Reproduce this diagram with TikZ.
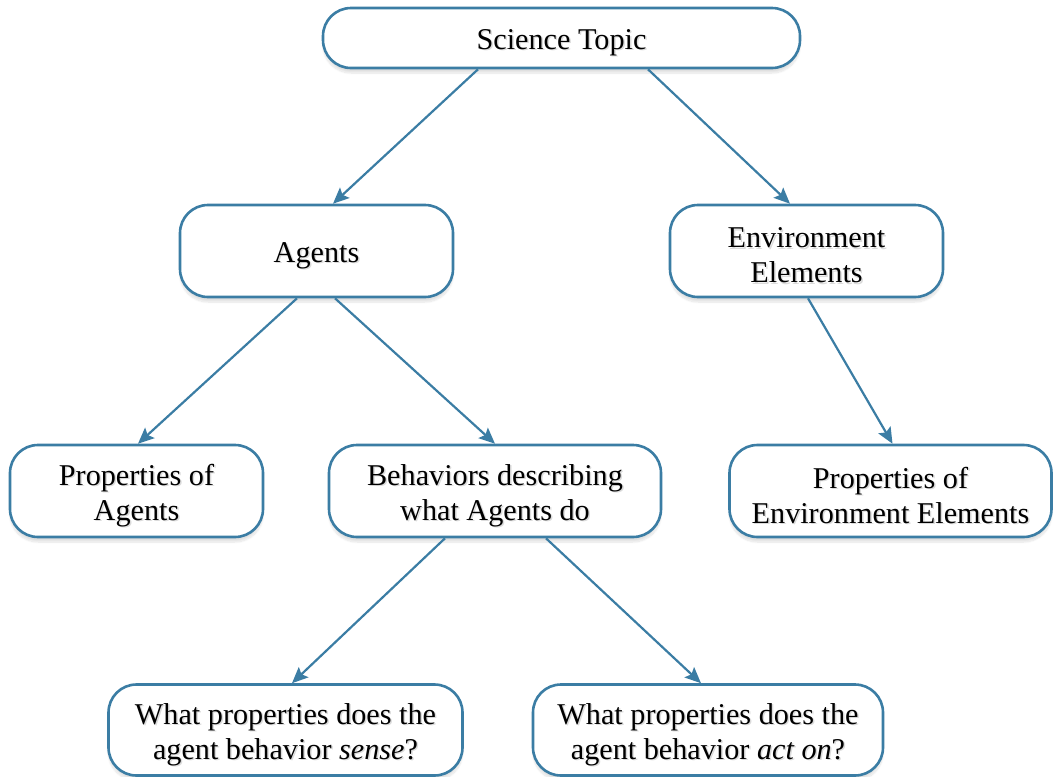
\documentclass[tikz,border=0pt]{standalone}
\usepackage{fontspec}
\setmainfont{Liberation Serif}
\usetikzlibrary{arrows.meta,shadows.blur}
\definecolor{boxblue}{HTML}{3B7DA4}
\begin{document}
\begin{tikzpicture}[x=1pt,y=-1pt,
  box/.style={draw=boxblue, line width=2.6pt, fill=white, rounded corners=28pt,
    inner sep=0pt,
    blur shadow={shadow xshift=0pt, shadow yshift=-5pt, shadow opacity=12, shadow blur steps=12}},
  lbl/.style={align=center, inner sep=0pt, font=\fontsize{30.2}{35}\selectfont},
  shd/.style={lbl, text=black, opacity=0.14},
  conn/.style={draw=boxblue, line width=2.2pt, -{Stealth[length=16pt,width=14pt,inset=3pt]}}]
\useasboundingbox (0,0) rectangle (1053,777);
\node[box, minimum width=477pt, minimum height=60pt] (st) at (561.5,38) {};
\node[box, minimum width=273pt, minimum height=92pt] (ag) at (316.5,251) {};
\node[box, minimum width=273pt, minimum height=92pt] (env) at (806.5,251) {};
\node[box, minimum width=253pt, minimum height=92pt] (pa) at (136.5,491) {};
\node[box, minimum width=332pt, minimum height=92pt] (beh) at (495,491) {};
\node[box, minimum width=322pt, minimum height=92pt] (pe) at (890.5,491) {};
\node[box, minimum width=354pt, minimum height=91pt] (se) at (285.5,730) {};
\node[box, minimum width=350pt, minimum height=91pt] (ac) at (708,730) {};
% soft text shadows
\node[shd] (sts) at ([xshift=1.5pt,yshift=-6pt]st.center) {Science Topic};
\node[shd] (ags) at ([xshift=1.5pt,yshift=-6pt]ag.center) {Agents};
\node[shd] (envs) at ([xshift=1.5pt,yshift=-6pt]env.center) {Environment\\Elements};
\node[shd] (pas) at ([xshift=1.5pt,yshift=-6pt]pa.center) {Properties of\\Agents};
\node[shd] (behs) at ([xshift=1.5pt,yshift=-6pt]beh.center) {Behaviors describing\\what Agents do};
\node[shd] (pes) at ([xshift=1.5pt,yshift=-6pt]pe.center) {Properties of\\Environment Elements};
\node[shd] (ses) at ([xshift=1.5pt,yshift=-6pt]se.center) {What properties does the\\agent behavior \textit{sense}?};
\node[shd] (acs) at ([xshift=1.5pt,yshift=-6pt]ac.center) {What properties does the\\agent behavior \textit{act on}?};
% labels
\node[lbl] (stt) at ([yshift=-4.5pt]st.center) {Science Topic};
\node[lbl] (agt) at ([yshift=-4.5pt]ag.center) {Agents};
\node[lbl] (envt) at ([yshift=-4.5pt]env.center) {Environment\\Elements};
\node[lbl] (pat) at ([yshift=-4.5pt]pa.center) {Properties of\\Agents};
\node[lbl] (beht) at ([yshift=-4.5pt]beh.center) {Behaviors describing\\what Agents do};
\node[lbl] (pet) at ([yshift=-4.5pt]pe.center) {Properties of\\Environment Elements};
\node[lbl] (set) at ([yshift=-4.5pt]se.center) {What properties does the\\agent behavior \textit{sense}?};
\node[lbl] (act) at ([yshift=-4.5pt]ac.center) {What properties does the\\agent behavior \textit{act on}?};
\draw[conn] ([xshift=-83.5pt]st.south) -- ([xshift=16.5pt]ag.north);
\draw[conn] ([xshift=86.5pt]st.south) -- ([xshift=-16.5pt]env.north);
\draw[conn] ([xshift=-19.5pt]ag.south) -- ([xshift=1.5pt]pa.north);
\draw[conn] ([xshift=18.5pt]ag.south) -- ([xshift=0pt]beh.north);
\draw[conn] ([xshift=1.5pt]env.south) -- ([xshift=2pt]pe.north);
\draw[conn] ([xshift=-50pt]beh.south) -- ([xshift=6.5pt]se.north);
\draw[conn] ([xshift=51pt]beh.south) -- ([xshift=-7pt]ac.north);
\end{tikzpicture}
\end{document}
